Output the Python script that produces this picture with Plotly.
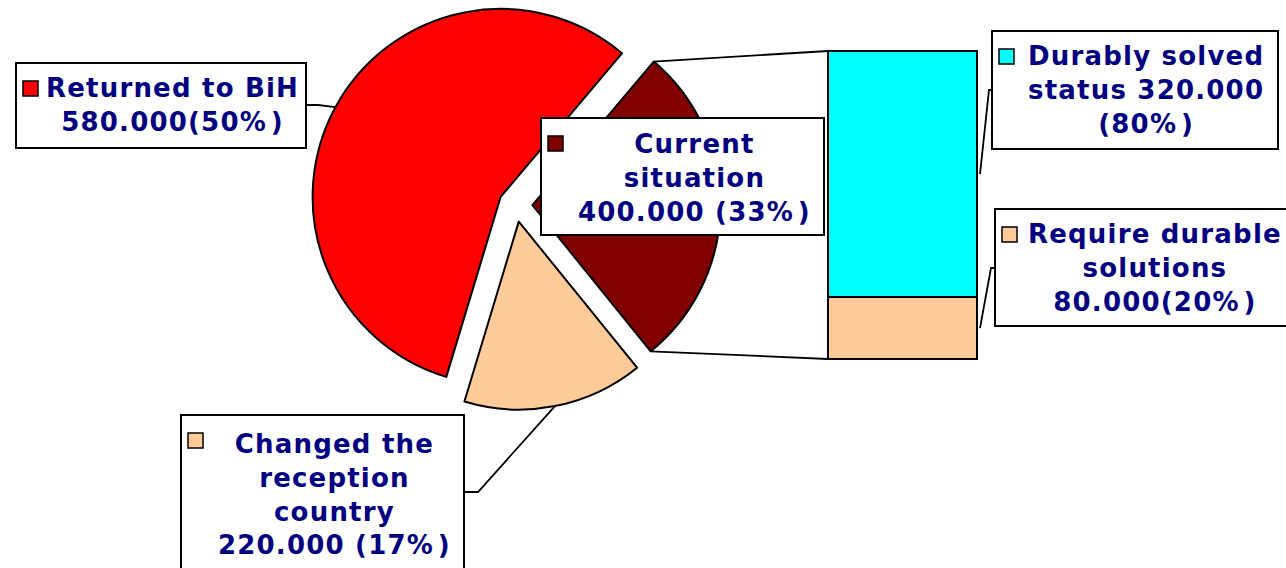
import math
import plotly.graph_objects as go

W, H = 1286, 568

# pie: slice shares as drawn in the picture (clockwise from the start angle)
pie_names = ['Returned to BiH', 'Current situation', 'Changed the reception country']
pie_share = [56.5, 28.0, 15.5]
pie_colors = ['#FF0000', '#800000', '#FFCC99']

# bar of the "current situation" slice (bottom to top)
bar_names = ['Require durable solutions', 'Durably solved status']
bar_values = [80000, 320000]
bar_colors = ['#FFCC99', '#00FFFF']

label_lines = [
    ['Returned to BiH', '580.000(50%)'],
    ['Current', 'situation', '400.000 (33%)'],
    ['Changed the', 'reception', 'country', '220.000 (17%)'],
    ['Durably solved', 'status 320.000', '(80%)'],
    ['Require durable', 'solutions', '80.000(20%)'],
]

NAVY = '#000080'
FONT = 'DejaVu Sans'
FS = 26
SPACING = 1.2


def px(x):
    return x / W


def py(y):
    return 1 - y / H


def styled(lines):
    # the reference font runs a little wider than DejaVu, so open it up a bit
    out = []
    for ln in lines:
        ln = ln.replace('%', '<span style="letter-spacing:5px">%</span>')
        out.append(f'<span style="letter-spacing:{SPACING}px">{ln}</span>')
    return '<b>' + '<br>'.join(out) + '</b>'


# pie geometry (pixels)
cx, cy, r, pull = 515.5, 205.0, 188.0, 0.09
rotation = -163.2
half = r * (1 + pull)

# slice angles, clockwise from 12 o'clock, as plotly lays them out
total = sum(pie_share)
slices = []
a = rotation
for v in pie_share:
    a1 = a + 360 * v / total
    slices.append((a, a1))
    a = a1


def arc_point(i, ang):
    a0, a1 = slices[i]
    mid = math.radians((a0 + a1) / 2)
    ox = cx + pull * r * math.sin(mid)
    oy = cy - pull * r * math.cos(mid)
    t = math.radians(ang)
    return ox + r * math.sin(t), oy - r * math.cos(t)


def mid_point(i):
    return arc_point(i, (slices[i][0] + slices[i][1]) / 2)


# bar geometry (pixels)
bx0, bx1, by_top, by_bot = 828, 977, 51, 359
bar_total = sum(bar_values)


def bar_y(v):
    return by_bot - v / bar_total * (by_bot - by_top)


fig = go.Figure()

fig.add_trace(go.Pie(
    labels=pie_names,
    values=pie_share,
    sort=False,
    direction='clockwise',
    rotation=rotation,
    pull=[pull] * 3,
    textinfo='none',
    hoverinfo='label',
    marker=dict(colors=pie_colors, line=dict(color='black', width=2)),
    domain=dict(x=[px(cx - half), px(cx + half)],
                y=[max(0, py(cy + half)), min(1, py(cy - half))]),
    showlegend=False,
))

for name, v, c in zip(bar_names, bar_values, bar_colors):
    fig.add_trace(go.Bar(
        x=[0], y=[v], name=name, width=1,
        marker=dict(color=c, line=dict(color='black', width=2)),
        showlegend=False,
    ))

# leave a couple of pixels around the bar so its outline is not clipped
padx, pady = 2, 2
span_x = 1.0 * (bx1 - bx0 + 2 * padx) / (bx1 - bx0)
span_y = bar_total * (by_bot - by_top + 2 * pady) / (by_bot - by_top)
fig.update_xaxes(visible=False, range=[-span_x / 2, span_x / 2],
                 domain=[px(bx0 - padx), px(bx1 + padx)])
fig.update_yaxes(visible=False, range=[-(span_y - bar_total) / 2, bar_total + (span_y - bar_total) / 2],
                 domain=[py(by_bot + pady), py(by_top - pady)])

shapes = []


def line_path(pts):
    d = 'M ' + ' L '.join(f'{px(x):.5f},{py(y):.5f}' for x, y in pts)
    shapes.append(dict(type='path', path=d, xref='paper', yref='paper',
                       line=dict(color='black', width=1.8), layer='above'))


# connectors from the dark slice to the bar
dark = 1
line_path([arc_point(dark, slices[dark][0]), (bx0, by_top)])
line_path([arc_point(dark, slices[dark][1]), (bx0, by_bot)])

# leader lines
line_path([(306, 105), (318, 105), mid_point(0)])
line_path([(464, 492), (478, 492), mid_point(2)])
line_path([(992, 90), (989, 90), (bx1 + 3, bar_y(bar_values[0] + bar_values[1] / 2))])
line_path([(995, 268), (991, 268), (bx1 + 3, bar_y(bar_values[0] / 2))])

# label boxes: (x0, y0, x1, y1, key colour, text centre x, text centre y)
boxes = [
    (16, 63, 306, 148, pie_colors[0], 173, 105),
    (541, 118, 824, 235, pie_colors[1], 694, 178),
    (181, 415, 464, 580, pie_colors[2], 334, 494),
    (992, 31, 1278, 149, bar_colors[1], 1146, 90),
    (995, 209, 1292, 326, bar_colors[0], 1155, 268),
]

annotations = []
for (x0, y0, x1, y1, col, tx, ty), lines in zip(boxes, label_lines):
    shapes.append(dict(type='rect', xref='paper', yref='paper',
                       x0=px(x0), x1=px(x1), y0=py(y1), y1=py(y0),
                       fillcolor='white', line=dict(color='black', width=2), layer='above'))
    shapes.append(dict(type='rect', xref='paper', yref='paper',
                       x0=px(x0 + 7), x1=px(x0 + 22), y0=py(y0 + 33), y1=py(y0 + 18),
                       fillcolor=col, line=dict(color='black', width=1.5), layer='above'))
    annotations.append(dict(
        x=px(tx), y=py(ty), xref='paper', yref='paper',
        xanchor='center', yanchor='middle', align='center', showarrow=False,
        text=styled(lines),
        font=dict(family=FONT, size=FS, color=NAVY),
    ))

fig.update_layout(
    width=W, height=H,
    margin=dict(l=0, r=0, t=0, b=0),
    paper_bgcolor='white',
    plot_bgcolor='rgba(0,0,0,0)',
    barmode='stack',
    shapes=shapes,
    annotations=annotations,
)

# drop the page's default 8px body margin so the figure sits at the top-left corner
fig.write_html('out.html', config={'displayModeBar': False},
               post_script="document.body.style.margin='0';")
